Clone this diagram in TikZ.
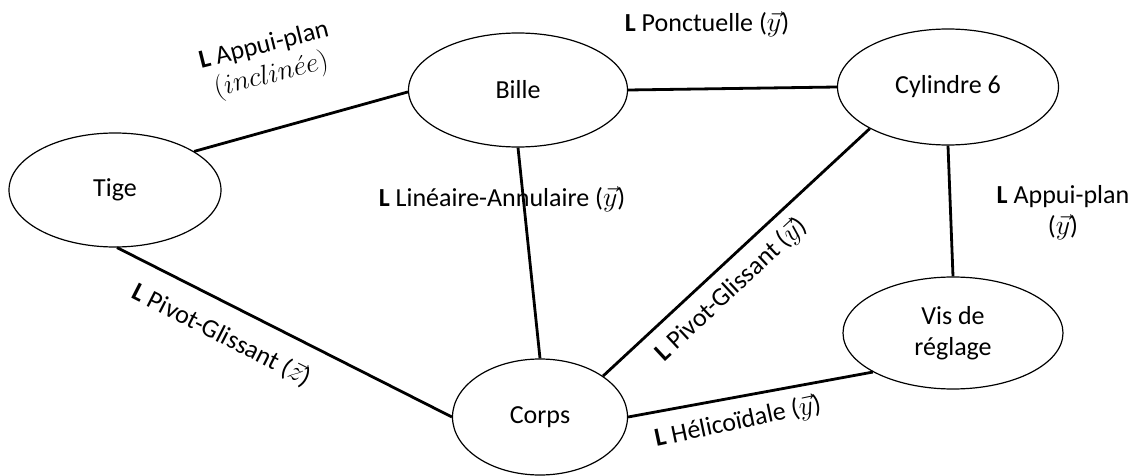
\documentclass[tikz,border=0pt]{standalone}
\usepackage{fontspec}
\usepackage{graphicx}
\setmainfont{Carlito}
\usetikzlibrary{shapes.geometric}
\newcommand{\mymath}[1]{\scalebox{1.12}{$#1$}}
\begin{document}
\begin{tikzpicture}[x=1pt,y=-1pt,
  part/.style={draw,ellipse,line width=1.2pt,inner sep=0pt,font=\fontsize{26}{31}\selectfont,align=center},
  link/.style={line width=2.8pt},
  lab/.style={font=\fontsize{26}{31}\selectfont,align=center,inner sep=0pt}]
\useasboundingbox (0,0) rectangle (1141,476);
\node[part,minimum width=212pt,minimum height=114pt] (tige) at (115,190) {Tige};
\node[part,minimum width=219pt,minimum height=114pt] (bille) at (518,90) {Bille};
\node[part,minimum width=221pt,minimum height=116pt] (cyl) at (948,87) {Cylindre 6};
\node[part,minimum width=220pt,minimum height=112pt] (vis) at (953,333) {Vis de\\réglage};
\node[part,minimum width=175pt,minimum height=116pt] (corps) at (540,417) {Corps};
\draw[link] (tige.26) -- (bille.181);
\draw[link] (bille.east) -- (cyl.west);
\draw[link] (bille.south) -- (corps.north);
\draw[link] (tige.-88) -- (corps.west);
\draw[link] (cyl.208) -- (corps.33);
\draw[link] (cyl.south) -- (vis.north);
\draw[link] (corps.east) -- (vis.206);
\node[lab,rotate=14] (l1) at (268,62) {\textbf{L} Appui-plan\\\mymath{(inclin\acute{e}e)}};
\node[lab] (l2) at (707,24) {\textbf{L} Ponctuelle (\mymath{\vec{y}})};
\node[lab] (l3) at (502,199) {\textbf{L} Linéaire-Annulaire (\mymath{\vec{y}})};
\node[lab] (l4) at (1063,213) {\textbf{L} Appui-plan\\(\mymath{\vec{y}})};
\node[lab,rotate=43] (l5) at (731,290) {\textbf{L} Pivot-Glissant (\mymath{\vec{y}})};
\node[lab,rotate=-27] (l6) at (222,335) {\textbf{L} Pivot-Glissant (\mymath{\vec{z}})};
\node[lab,rotate=12] (l7) at (738,422) {\textbf{L} Hélicoïdale (\mymath{\vec{y}})};
\end{tikzpicture}
\end{document}
